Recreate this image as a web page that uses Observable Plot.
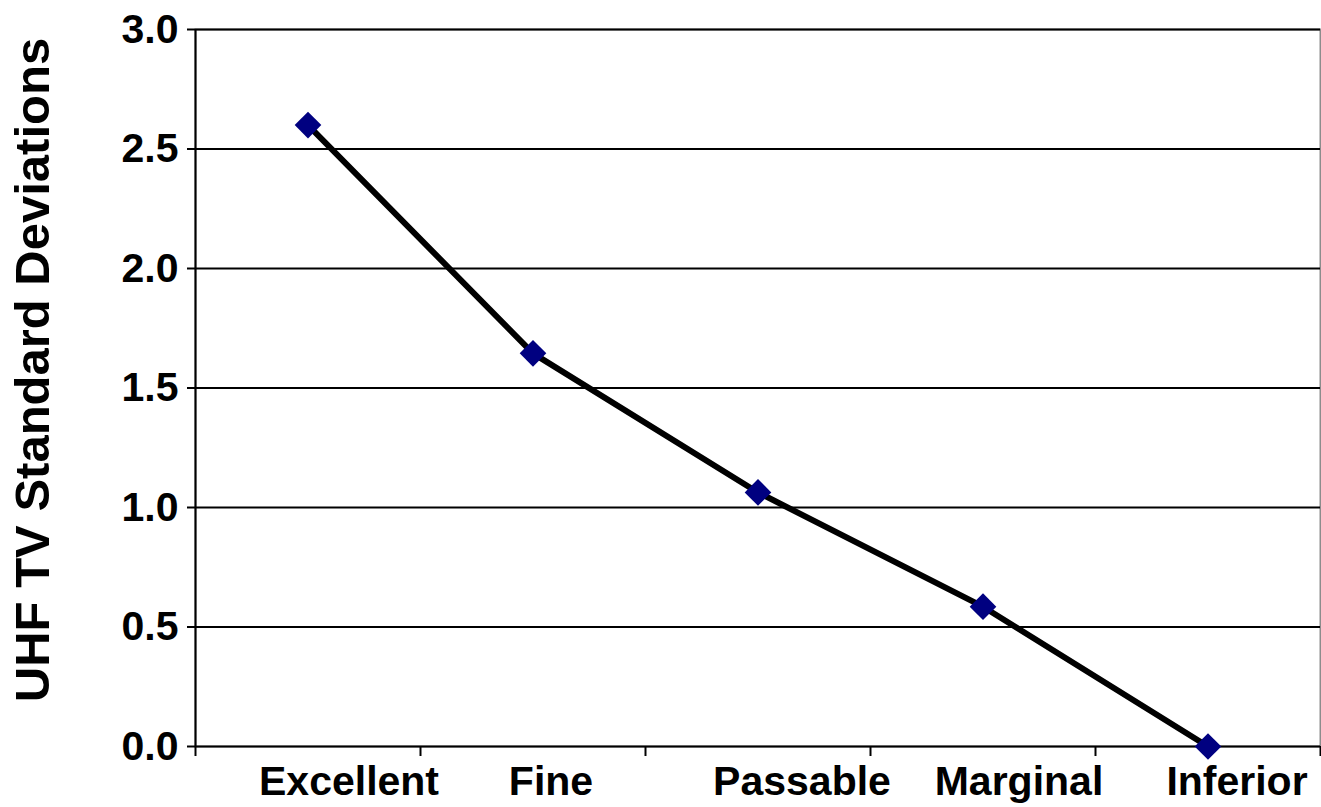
<!DOCTYPE html>
<html>
<head>
<meta charset="utf-8">
<script src="https://cdn.jsdelivr.net/npm/d3@7"></script>
<script src="https://cdn.jsdelivr.net/npm/@observablehq/plot@0.6"></script>
<style>
  html, body { margin: 0; padding: 0; background: #fff; }
  #chart svg { display: block; }
</style>
</head>
<body>
<div id="chart"></div>
<script>
// Data
const categories = ["Excellent", "Fine", "Passable", "Marginal", "Inferior"];
const values = [2.60, 1.645, 1.063, 0.585, 0.0];
const yTicks = [0, 0.5, 1.0, 1.5, 2.0, 2.5, 3.0];
const yTitle = "UHF TV Standard Deviations";

const data = categories.map((c, i) => ({i, category: c, value: values[i]}));
const boundaries = d3.range(-0.5, categories.length, 1); // -0.5 .. 4.5
const font = "'Liberation Sans', Arial, Helvetica, sans-serif";
// label horizontal offsets (as drawn in the reference)
const labelShift = [41, 18, 44, 36, 29];

const chart = Plot.plot({
  width: 1321,
  height: 807,
  marginLeft: 195,
  marginRight: 1,
  marginTop: 29,
  marginBottom: 61,
  style: {fontFamily: font, background: "#fff", overflow: "visible"},
  x: {type: "linear", domain: [-0.5, categories.length - 0.5], axis: null},
  y: {domain: [0, 3], axis: null},
  marks: [
    Plot.frame({stroke: "#8c8c8c", strokeWidth: 2}),
    Plot.ruleY(yTicks, {stroke: "#000", strokeWidth: 2}),
    Plot.ruleX([boundaries[0]], {stroke: "#000", strokeWidth: 2}),
    Plot.axisY({
      ticks: yTicks, tickFormat: d3.format(".1f"), tickSize: 8, tickPadding: 9,
      fontSize: 41, fontWeight: "bold", label: null, stroke: "#000", strokeWidth: 2, color: "#000"
    }),
    Plot.axisX({
      ticks: boundaries, tickFormat: () => "", tickSize: 10, label: null,
      stroke: "#000", strokeWidth: 2
    }),
    ...categories.map((c, i) => Plot.text([data[i]], {
      x: "i", frameAnchor: "bottom", text: "category", lineAnchor: "top",
      dx: labelShift[i], dy: 19, fontSize: 41, fontWeight: "bold", fill: "#000"
    })),
    Plot.text([yTitle], {
      frameAnchor: "left", rotate: -90, text: d => d, dx: -162, dy: -18,
      textAnchor: "middle", fontSize: 49, fontWeight: "bold", fill: "#000", lineAnchor: "middle"
    }),
    Plot.line(data, {x: "i", y: "value", stroke: "#000", strokeWidth: 6, strokeLinejoin: "miter"}),
    Plot.dot(data, {x: "i", y: "value", symbol: "diamond2", r: 12, fill: "#000080", stroke: "none"})
  ]
});
document.getElementById("chart").appendChild(chart);
</script>
</body>
</html>
